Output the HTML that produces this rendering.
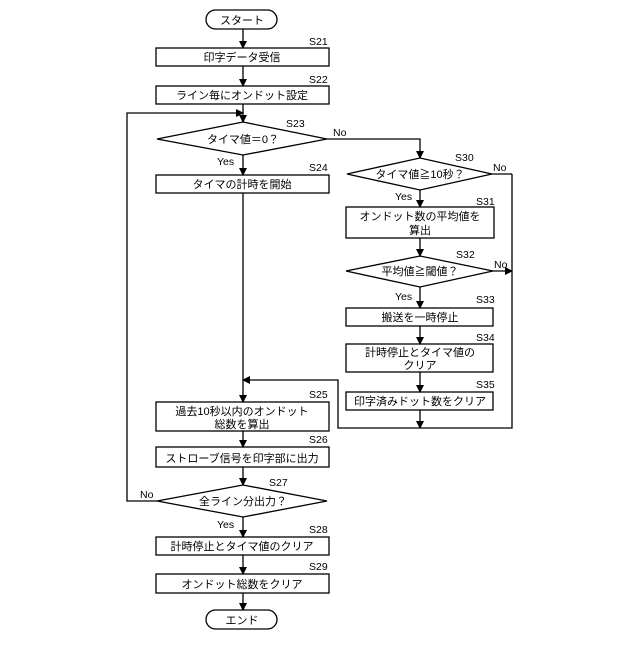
<!DOCTYPE html>
<html><head><meta charset="utf-8"><style>
body{margin:0;background:#fff}
svg text{font-family:"Liberation Sans","Noto Sans CJK JP",sans-serif;fill:#000}
</style></head><body>
<svg width="640" height="640" viewBox="0 0 640 640" xmlns="http://www.w3.org/2000/svg">
<defs><marker id="a" markerWidth="8" markerHeight="8" refX="7" refY="4" orient="auto" markerUnits="userSpaceOnUse"><path d="M0,0 L8,4 L0,8 z" fill="#000"/></marker></defs>
<g stroke="#000" stroke-width="1.3" fill="none">
<rect x="206" y="10" width="71" height="19" rx="9.5" fill="#fff"/>
<rect x="156" y="48" width="173" height="18"/>
<rect x="156" y="86" width="173" height="18"/>
<polygon points="157,139 243,122 327,139 243,155"/>
<rect x="156" y="175" width="173" height="18"/>
<polygon points="347,174 420,158 492,174 420,190"/>
<rect x="346" y="207" width="148" height="31"/>
<polygon points="346,271 420,256 493,271 420,287"/>
<rect x="346" y="308" width="147" height="18"/>
<rect x="346" y="344" width="147" height="28"/>
<rect x="346" y="392" width="147" height="18"/>
<rect x="156" y="402" width="173" height="29"/>
<rect x="156" y="447" width="173" height="20"/>
<polygon points="157,501 243,485 327,501 243,517"/>
<rect x="156" y="537" width="173" height="18"/>
<rect x="156" y="574" width="173" height="19"/>
<rect x="206" y="610" width="71" height="19" rx="9.5"/>
<g marker-end="url(#a)">
<line x1="243" y1="29" x2="243" y2="48"/>
<line x1="243" y1="66" x2="243" y2="86"/>
<line x1="243" y1="104" x2="243" y2="122"/>
<line x1="243" y1="155" x2="243" y2="175"/>
<line x1="243" y1="193" x2="243" y2="402"/>
<line x1="243" y1="431" x2="243" y2="447"/>
<line x1="243" y1="467" x2="243" y2="485"/>
<line x1="243" y1="517" x2="243" y2="537"/>
<line x1="243" y1="555" x2="243" y2="574"/>
<line x1="243" y1="593" x2="243" y2="610"/>
<polyline points="327,139 420,139 420,158"/>
<line x1="420" y1="190" x2="420" y2="207"/>
<line x1="420" y1="238" x2="420" y2="256"/>
<line x1="420" y1="287" x2="420" y2="308"/>
<line x1="420" y1="326" x2="420" y2="344"/>
<line x1="420" y1="372" x2="420" y2="392"/>
<line x1="420" y1="410" x2="420" y2="428"/>
<line x1="493" y1="271" x2="512" y2="271"/>
<polyline points="157,501 127,501 127,113 243,113"/>
<polyline points="512,174 512,428 338,428 338,380 243,380"/>
</g>
<line x1="492" y1="174" x2="512" y2="174"/>
</g>
<g font-size="11" text-anchor="middle">
<text x="242" y="24">スタート</text>
<text x="242" y="61">印字データ受信</text>
<text x="242" y="99">ライン毎にオンドット設定</text>
<text x="243" y="143">タイマ値＝0？</text>
<text x="242" y="188">タイマの計時を開始</text>
<text x="420" y="178">タイマ値≧10秒？</text>
<text x="420" y="220">オンドット数の平均値を</text>
<text x="420" y="234">算出</text>
<text x="420" y="275">平均値≧閾値？</text>
<text x="420" y="321">搬送を一時停止</text>
<text x="420" y="356">計時停止とタイマ値の</text>
<text x="420" y="369">クリア</text>
<text x="420" y="405">印字済みドット数をクリア</text>
<text x="242" y="415">過去10秒以内のオンドット</text>
<text x="242" y="428">総数を算出</text>
<text x="242" y="462">ストローブ信号を印字部に出力</text>
<text x="243" y="505">全ライン分出力？</text>
<text x="242" y="550">計時停止とタイマ値のクリア</text>
<text x="242" y="588">オンドット総数をクリア</text>
<text x="242" y="624">エンド</text>
</g>
<g font-size="10.5">
<text x="309" y="45">S21</text><text x="309" y="83">S22</text><text x="286" y="127">S23</text>
<text x="309" y="171">S24</text><text x="455" y="161">S30</text><text x="476" y="205">S31</text>
<text x="456" y="258">S32</text><text x="476" y="303">S33</text><text x="476" y="341">S34</text>
<text x="476" y="388">S35</text><text x="309" y="398">S25</text><text x="309" y="443">S26</text>
<text x="269" y="486">S27</text><text x="309" y="533">S28</text><text x="309" y="570">S29</text>
<text x="333" y="136">No</text><text x="493" y="171">No</text><text x="494" y="268">No</text><text x="140" y="498">No</text>
<text x="217" y="165">Yes</text><text x="395" y="200">Yes</text><text x="395" y="300">Yes</text><text x="217" y="528">Yes</text>
</g>
</svg>
</body></html>
